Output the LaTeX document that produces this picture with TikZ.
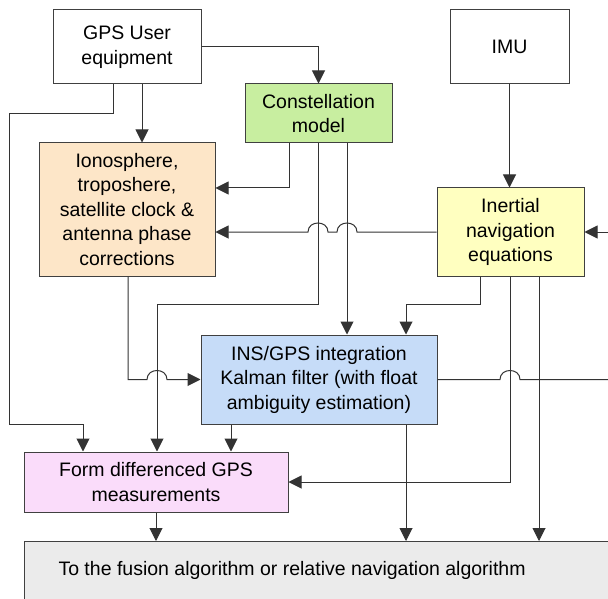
\documentclass[tikz,border=0pt]{standalone}
\usepackage{fontspec}
\setmainfont{Liberation Sans}
\usetikzlibrary{positioning}
\usetikzlibrary{arrows.meta}

\definecolor{constgreen}{RGB}{200,238,160}
\definecolor{ionopeach}{RGB}{253,230,200}
\definecolor{insyellow}{RGB}{255,255,192}
\definecolor{kfblue}{RGB}{198,220,248}
\definecolor{formpink}{RGB}{250,220,250}
\definecolor{outgrey}{RGB}{235,235,235}

\begin{document}
\begin{tikzpicture}[x=1pt, y=-1pt, >={Triangle[length=13pt, width=13pt]}]
		\tikzstyle{block} = [draw=black!75, line width=1pt, shape=rectangle, align=center, inner sep=0pt, font=\fontsize{19.5}{24.5}\selectfont]
		\tikzstyle{link} = [draw=black!80, line width=1pt]
		\path[use as bounding box, clip] (0,0) rectangle (608,599);
	% Bloques
		\node[block, minimum width=148pt, minimum height=74pt] (gps) at (127, 47) {GPS User\\equipment};
		\node[block, fill=constgreen, minimum width=147pt, minimum height=59pt] (const) at (318.5, 113.5) {Constellation\\model};
		\node[block, minimum width=119pt, minimum height=74pt] (imu) at (509.5, 47) {IMU};
		\node[block, fill=ionopeach, minimum width=176pt, minimum height=133pt] (iono) at (127, 209.5) {Ionosphere,\\troposhere,\\satellite clock \&\\antenna phase\\corrections};
		\node[block, fill=insyellow, minimum width=147pt, minimum height=88pt] (ins) at (510.5, 232) {Inertial\\navigation\\equations};
		\node[block, fill=kfblue, minimum width=236pt, minimum height=89pt] (kf) at (319, 379.5) {INS/GPS integration\\Kalman filter (with float\\ambiguity estimation)};
		\node[block, fill=formpink, minimum width=264pt, minimum height=60pt] (form) at (156, 482) {Form differenced GPS\\measurements};
		\node[block, fill=outgrey, minimum width=620pt, minimum height=60pt, anchor=north west] (out) at (24, 541) {};
		\node[block, draw=none, anchor=west] (outtxt) at (58, 570) {To the fusion algorithm or relative navigation algorithm};

		\coordinate (rin) at (608, 232);
		\coordinate (rout) at (608, 379.5);

	% Conexiones
		\draw[link, ->] (gps.east) -| (const.north);
		\draw[link, ->] (gps.south -| 142,0) -- (iono.north -| 142,0);
		\draw[link, ->] (gps.south -| 113,0) |- (9,114) |- (83,424) -- (form.north -| 83,0);
		\draw[link, ->] (const.south -| 289,0) |- (iono.east |- 0,188);
		\draw[link, ->] (imu.south) -- (imu.south |- ins.north);
		\draw[link, ->] (rin) -- (ins.east);
		\draw[link, ->] (ins.west) -- (357,232) .. controls (357,220) and (337,220) .. (337,232)
			-- (328,232) .. controls (328,220) and (308,220) .. (308,232) -- (iono.east |- 0,232);
		\draw[link, ->] (const.south) |- (157,304) -- (form.north -| 157,0);
		\draw[link, ->] (const.south -| 347,0) -- (kf.north -| 347,0);
		\draw[link, ->] (ins.south -| 480,0) |- (406,304) -- (kf.north -| 406,0);
		\draw[link, ->] (ins.south -| 510,0) |- (form.east);
		\draw[link, ->] (ins.south -| 539,0) -- (out.north -| 539,0);
		\draw[link, ->] (iono.south -| 128,0) |- (147,379.5) .. controls (147,367.5) and (167,367.5) .. (167,379.5) -- (kf.west);
		\draw[link] (kf.east) -- (500,379.5) .. controls (500,367.5) and (520,367.5) .. (520,379.5) -- (rout);
		\draw[link, ->] (kf.south -| 231,0) -- (form.north -| 231,0);
		\draw[link, ->] (kf.south -| 406,0) -- (out.north -| 406,0);
		\draw[link, ->] (form.south) -- (out.north -| form.south);

	\end{tikzpicture}
\end{document}
